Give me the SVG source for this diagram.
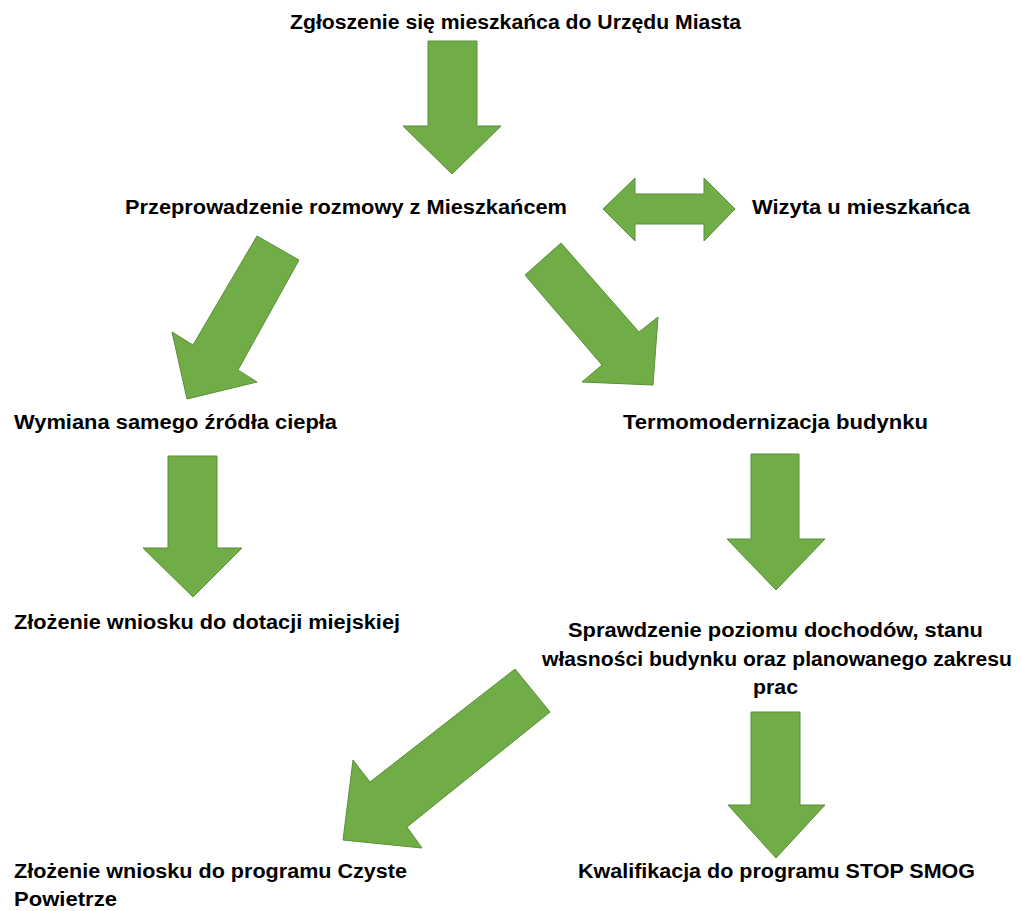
<svg xmlns="http://www.w3.org/2000/svg" width="1020" height="911" viewBox="0 0 1020 911">
<style>
.t{font-family:"Liberation Sans",Arial,sans-serif;font-weight:bold;font-size:19.5px;fill:#000}
.a{fill:#70ad47;stroke:#5a8f38;stroke-width:1;stroke-linejoin:miter}
</style>
<rect width="1020" height="911" fill="#fff"/>
<g id="connectors">
<polygon class="a" points="428,41 477,41 477,126 501,126 452,174 403,126 428,126"/>
<polygon class="a" points="603,209 635,178 635,194 704,194 704,178 735,209 704,241 704,224 635,224 635,241"/>
<polygon class="a" points="257,236 299,260 238,370 257,382 187,399 172,332 193,345"/>
<polygon class="a" points="561,243 525,275 602,365 582,382 653,385 658,317 639,332"/>
<polygon class="a" points="168,456 217,456 217,548 242,548 193,597 143,548 168,548"/>
<polygon class="a" points="751,454 799,454 799,539 825,539 776,590 727,539 751,539"/>
<polygon class="a" points="515,669 550,712 407,827 422,848 343,840 353,760 370,782"/>
<polygon class="a" points="751,712 800,712 800,805 825,805 776,858 728,805 751,805"/>
</g>
<g id="n1"><text class="t" x="290" y="29" textLength="451" lengthAdjust="spacingAndGlyphs">Zgłoszenie się mieszkańca do Urzędu Miasta</text></g>
<g id="n2"><text class="t" x="125" y="214" textLength="442" lengthAdjust="spacingAndGlyphs">Przeprowadzenie rozmowy z Mieszkańcem</text></g>
<g id="n3"><text class="t" x="752" y="214" textLength="218" lengthAdjust="spacingAndGlyphs">Wizyta u mieszkańca</text></g>
<g id="n4"><text class="t" x="14" y="429" textLength="323" lengthAdjust="spacingAndGlyphs">Wymiana samego źródła ciepła</text></g>
<g id="n5"><text class="t" x="623" y="429" textLength="305" lengthAdjust="spacingAndGlyphs">Termomodernizacja budynku</text></g>
<g id="n6"><text class="t" x="14" y="629" textLength="386" lengthAdjust="spacingAndGlyphs">Złożenie wniosku do dotacji miejskiej</text></g>
<g id="n7">
<text class="t" x="568" y="637" textLength="415" lengthAdjust="spacingAndGlyphs">Sprawdzenie poziomu dochodów, stanu</text>
<text class="t" x="542" y="666" textLength="470" lengthAdjust="spacingAndGlyphs">własności budynku oraz planowanego zakresu</text>
<text class="t" x="753" y="694" textLength="45" lengthAdjust="spacingAndGlyphs">prac</text>
</g>
<g id="n8">
<text class="t" x="14" y="878" textLength="393" lengthAdjust="spacingAndGlyphs">Złożenie wniosku do programu Czyste</text>
<text class="t" x="14" y="906" textLength="103" lengthAdjust="spacingAndGlyphs">Powietrze</text>
</g>
<g id="n9"><text class="t" x="578" y="878" textLength="397" lengthAdjust="spacingAndGlyphs">Kwalifikacja do programu STOP SMOG</text></g>
</svg>
